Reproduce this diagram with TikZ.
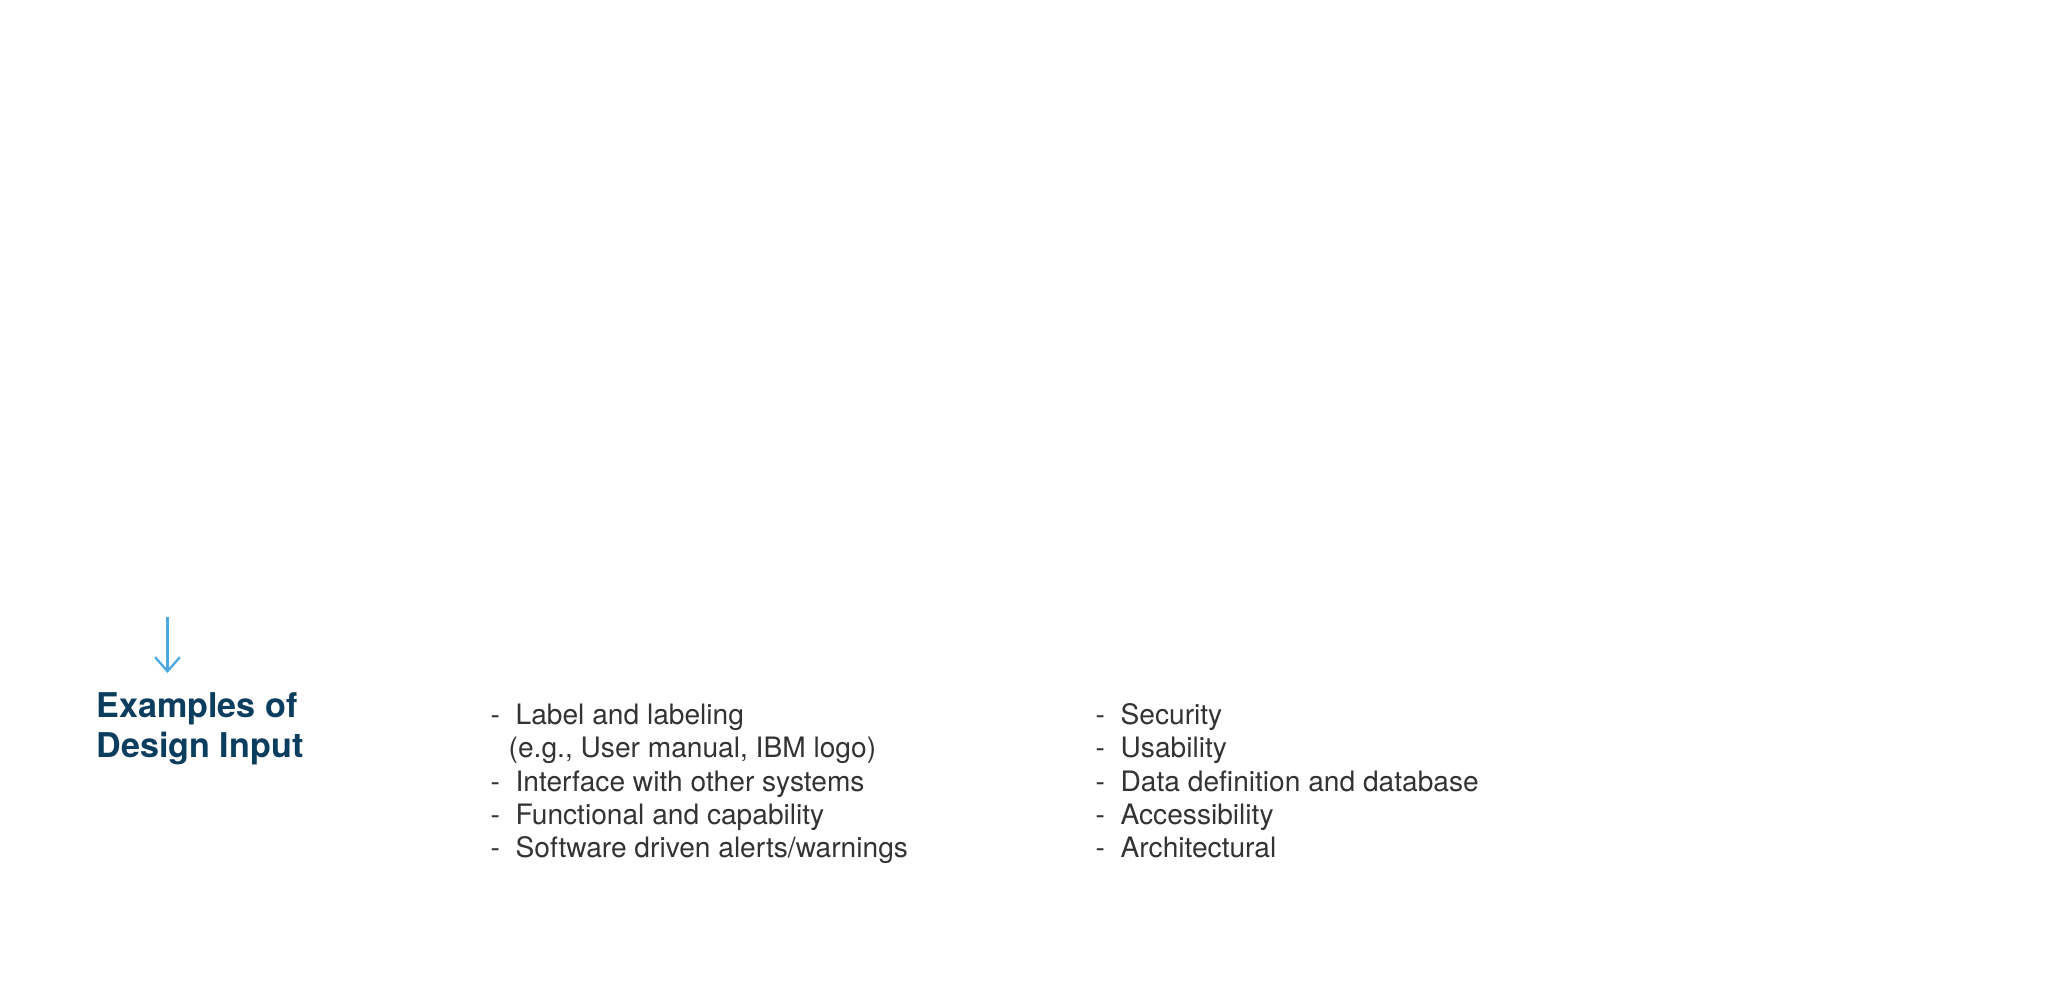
\documentclass[tikz,border=0pt]{standalone}
\usepackage{fontspec}
\setmainfont{TeX Gyre Heros}
\usepackage{tikz}
\usetikzlibrary{arrows.meta}

\definecolor{titleblue}{HTML}{0B3D5F}
\definecolor{arrowblue}{HTML}{4AA8E3}
\definecolor{itemgray}{HTML}{333333}

\newcommand{\itm}[1]{\makebox[7.1pt][l]{-}#1}

\begin{document}
\begin{tikzpicture}[x=0.01cm,y=-0.01cm,
  title/.style={anchor=base west,inner sep=0pt,text=titleblue,font=\fontsize{9.7pt}{11.4pt}\selectfont\bfseries},
  item/.style={anchor=base west,inner sep=0pt,text=itemgray,font=\fontsize{8pt}{9.6pt}\selectfont}]

\useasboundingbox [fill=white] (0,0) rectangle (2048,1000);

\coordinate (ArrowTop) at (167.5,617);
\coordinate (ArrowTip) at (167.5,673);

\node (ExamplesOf) at (96,717) [title]{Examples of};
\node (DesignInput) at (96,757) [title]{Design Input};

\node (Labeling) at (490,724) [item]{\itm{Label and labeling}};
\node (LabelingEg) at (508,757) [item]{(e.g., User manual, IBM logo)};
\node (Interface) at (490,791) [item]{\itm{Interface with other systems}};
\node (Functional) at (490,824) [item]{\itm{Functional and capability}};
\node (Alerts) at (490,857) [item]{\itm{Software driven alerts/warnings}};

\node (Security) at (1095,724) [item]{\itm{Security}};
\node (Usability) at (1095,757) [item]{\itm{Usability}};
\node (DataDefinition) at (1095,791) [item]{\itm{Data definition and database}};
\node (Accessibility) at (1095,824) [item]{\itm{Accessibility}};
\node (Architectural) at (1095,857) [item]{\itm{Architectural}};

\draw [arrowblue,line width=0.65pt,-{Straight Barb[length=4pt,width=7pt]}] (ArrowTop) -- (ArrowTip);

\end{tikzpicture}
\end{document}
